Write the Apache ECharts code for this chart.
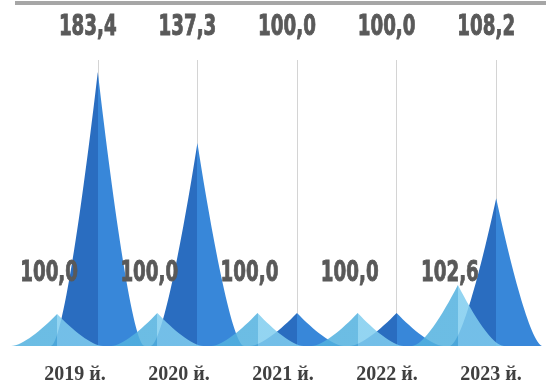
<!DOCTYPE html>
<html>
<head>
<meta charset="utf-8">
<script src="https://cdn.jsdelivr.net/npm/echarts@6/dist/echarts.min.js"></script>
<style>
  html, body { margin: 0; padding: 0; background: #ffffff; }
  #chart { width: 546px; height: 386px; }
</style>
</head>
<body>
<div id="chart"></div>
<script>
// ---- data ----
const categories = ['2019 й.', '2020 й.', '2021 й.', '2022 й.', '2023 й.'];
// index values shown in the labels
const darkValues  = [183.4, 137.3, 100.0, 100.0, 108.2];
const lightValues = [100.0, 100.0, 100.0, 100.0, 102.6];
// peak heights as drawn in the picture (percent of plot height)
const darkPeakHeights  = [95.8, 71.0, 11.5, 11.5, 51.7];
const lightPeakHeights = [11.2, 11.5, 11.5, 11.5, 21.3];

const fmt = v => v.toFixed(1).replace('.', ',');
const peakPath = 'path://M0,100 C12,100 33,50 50,0 C67,50 88,100 100,100 Z';
const labelFont = "bold 29px 'DejaVu Sans Condensed', 'DejaVu Sans', sans-serif";

function twoTone(left, right) {
  return {
    type: 'linear', x: 0, y: 0, x2: 1, y2: 0,
    colorStops: [
      { offset: 0, color: left }, { offset: 0.5, color: left },
      { offset: 0.5, color: right }, { offset: 1, color: right }
    ]
  };
}

// label renderer: condensed, fixed row above the baseline
function labelRenderer(values, dx, rise) {
  return function (params, api) {
    const i = api.value(0);
    const base = api.coord([i, 0]);
    return {
      type: 'text',
      x: base[0] + dx,
      y: base[1] - rise,
      scaleX: 0.7,
      silent: true,
      style: {
        x: 0, y: 0,
        text: fmt(values[i]),
        font: labelFont,
        fill: '#595959',
        stroke: '#595959',
        lineWidth: 0.9,
        align: 'center',
        verticalAlign: 'middle'
      }
    };
  };
}

const chart = echarts.init(document.getElementById('chart'), null, { renderer: 'canvas' });
const TOP = 60, BOTTOM = 40;
chart.setOption({
  animation: false,
  backgroundColor: '#ffffff',
  graphic: [{
    type: 'rect', shape: { x: 15, y: 1, width: 531, height: 4 },
    style: { fill: '#a6a6a6' }, silent: true
  }],
  grid: [
    { left: 48, width: 498, top: TOP, bottom: BOTTOM },   // dark peaks
    { left: 7, width: 501, top: TOP, bottom: BOTTOM },    // light peaks
    { left: 23, width: 520, top: TOP, bottom: BOTTOM }    // year labels
  ],
  xAxis: [
    { gridIndex: 0, type: 'category', data: categories, show: false },
    { gridIndex: 1, type: 'category', data: categories, show: false },
    { gridIndex: 2, type: 'category', data: categories,
      axisLine: { show: false }, axisTick: { show: false }, splitLine: { show: false },
      axisLabel: { margin: 19, fontFamily: "'Liberation Serif', 'Times New Roman', serif",
        fontWeight: 'bold', fontSize: 20, color: '#404040' } }
  ],
  yAxis: [
    { gridIndex: 0, type: 'value', min: 0, max: 100, show: false },
    { gridIndex: 1, type: 'value', min: 0, max: 100, show: false },
    { gridIndex: 2, type: 'value', min: 0, max: 100, show: false }
  ],
  series: [
    {
      type: 'line', xAxisIndex: 0, yAxisIndex: 0, data: [], z: 1,
      markLine: {
        z: 1, silent: true, symbol: 'none', label: { show: false },
        lineStyle: { color: '#d4d4d4', width: 1, type: 'solid' },
        data: categories.map((c, i) => ({ xAxis: i }))
      }
    },
    {
      type: 'pictorialBar', xAxisIndex: 0, yAxisIndex: 0, z: 3,
      symbol: peakPath, symbolSize: ['100%', '100%'], barWidth: 94,
      itemStyle: { color: twoTone('#2a6dc0', '#3887d9') },
      data: darkPeakHeights
    },
    {
      type: 'pictorialBar', xAxisIndex: 1, yAxisIndex: 1, z: 4,
      symbol: peakPath, symbolSize: ['100%', '100%'], barWidth: 92,
      itemStyle: { color: twoTone('#52b1df', '#80cdef'), opacity: 0.85 },
      data: lightPeakHeights
    },
    {
      type: 'custom', xAxisIndex: 0, yAxisIndex: 0, z: 6,
      renderItem: labelRenderer(darkValues, -10, 319),
      data: darkValues.map((v, i) => [i, v])
    },
    {
      type: 'custom', xAxisIndex: 1, yAxisIndex: 1, z: 6,
      renderItem: labelRenderer(lightValues, -8, 73),
      data: lightValues.map((v, i) => [i, v])
    }
  ]
});
</script>
</body>
</html>
